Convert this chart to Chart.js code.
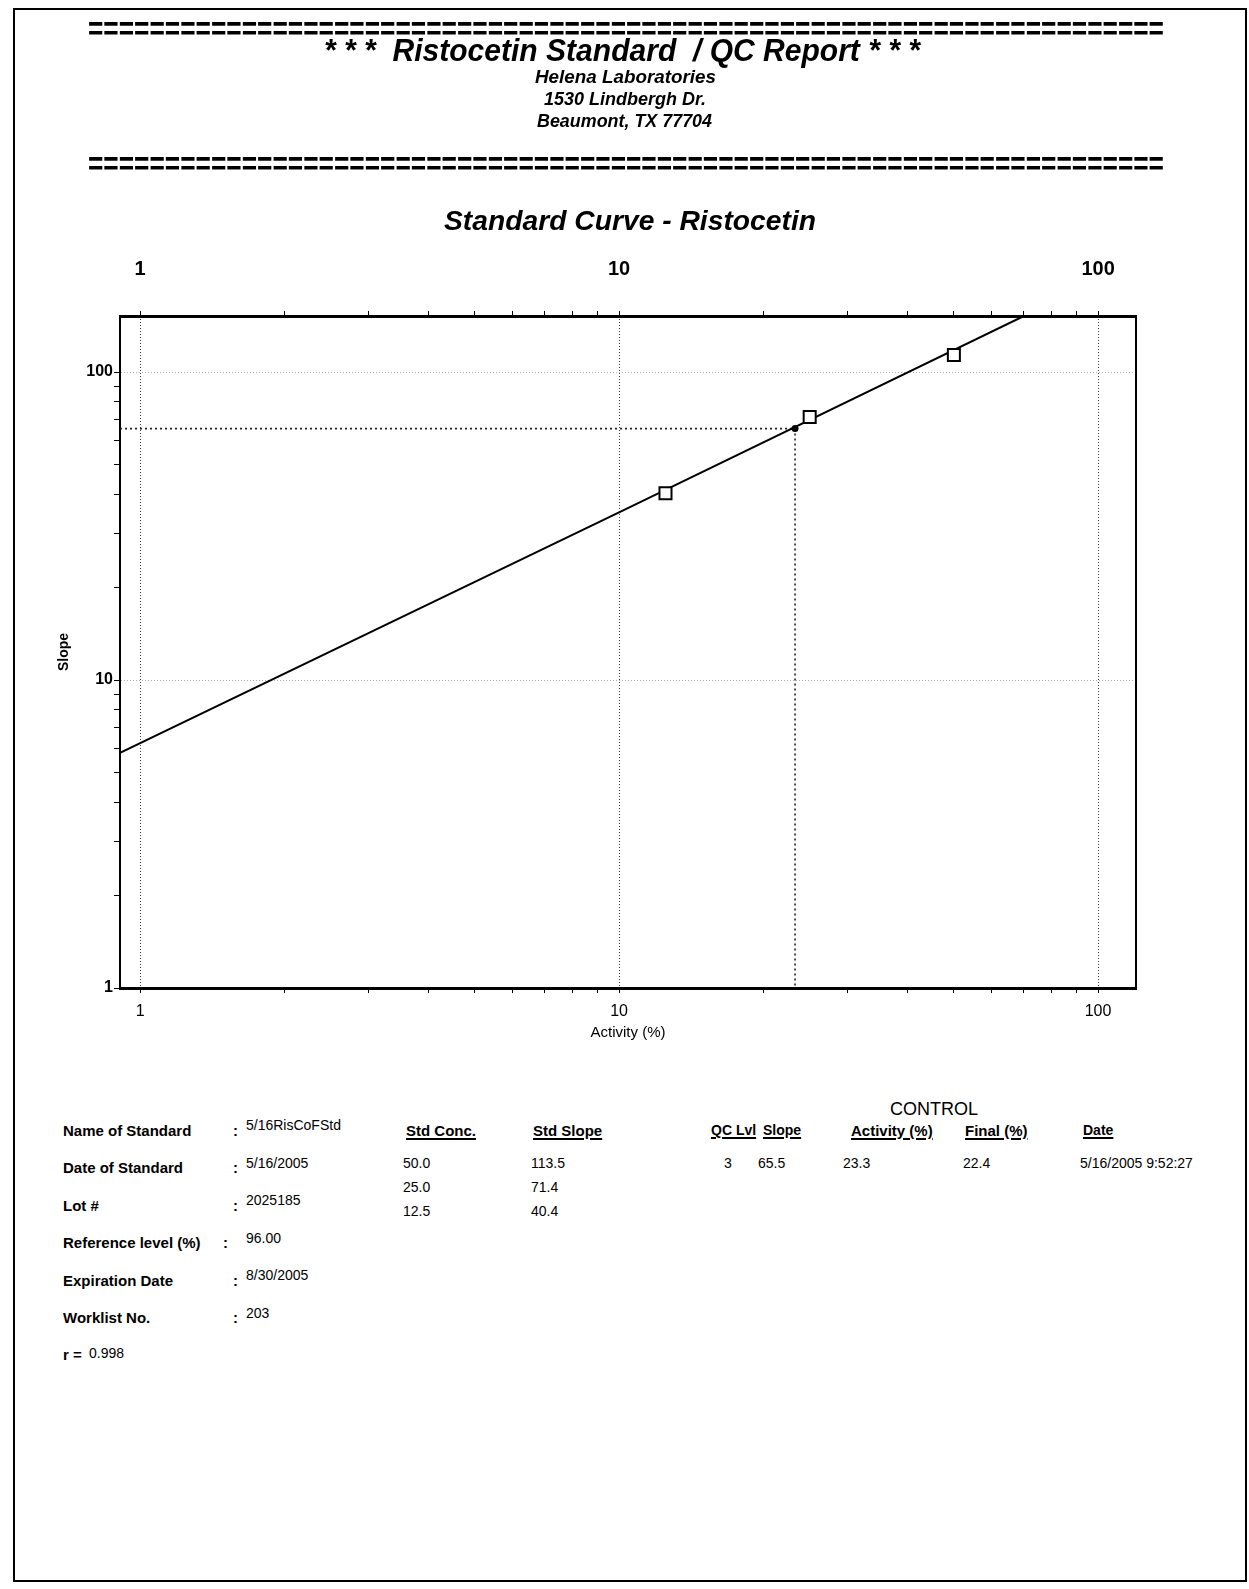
<!DOCTYPE html>
<html>
<head>
<meta charset="utf-8">
<script src="https://cdn.jsdelivr.net/npm/chart.js@4.4.1/dist/chart.umd.min.js"></script>
<style>
html, body { margin: 0; padding: 0; background: #fff; }
body { width: 1249px; height: 1589px; position: relative; overflow: hidden;
       font-family: "Liberation Sans", Arial, sans-serif; color: #000; }
#frame { position: absolute; left: 13px; top: 8px; width: 1234px; height: 1574px;
         border: 2px solid #000; box-sizing: border-box; }
#c { position: absolute; left: 0; top: 0; }
.t { position: absolute; white-space: pre; line-height: 1; transform-origin: 0 0; }
.bi { font-weight: bold; font-style: italic; }
.b { font-weight: bold; }
.u { font-weight: bold; text-decoration: underline; text-decoration-thickness: 1.5px; text-underline-offset: 2px; }
</style>
</head>
<body>
<div id="frame"></div>
<canvas id="c" width="1249" height="1060"></canvas>
<div id="texts"></div>
<script>
// ---------------- data ----------------
const xAxisMin = 0.908, xAxisMax = 120;
const yAxisMin = 1, yAxisMax = 152;
const xTickLabelValues = [1, 10, 100];
const xTickLabels = ['1', '10', '100'];
const yTickLabelValues = [1, 10, 100];
const yTickLabels = ['1', '10', '100'];

const stdConc = [50.0, 25.0, 12.5];
const stdSlope = [113.5, 71.4, 40.4];

const qcLevel = [3];
const qcSlope = [65.5];
const qcActivity = [23.3];
const qcFinal = [22.4];
const qcDate = ['5/16/2005 9:52:27'];

const curveActivity = [0.908, 10, 70];
const curveSlope = [5.8, 35, 152];

const headerLines = ['* * *  Ristocetin Standard  / QC Report * * *', 'Helena Laboratories', '1530 Lindbergh Dr.', 'Beaumont, TX 77704'];
const chartTitle = 'Standard Curve - Ristocetin';
const infoLabels = ['Name of Standard', 'Date of Standard', 'Lot #', 'Reference level (%)', 'Expiration Date', 'Worklist No.'];
const infoValues = ['5/16RisCoFStd', '5/16/2005', '2025185', '96.00', '8/30/2005', '203'];
const rValue = '0.998';

// ---------------- text layout ----------------
const holder = document.getElementById('texts');
function txt(s, x, cy, fs, cls, w) {
  const d = document.createElement('div');
  d.className = 't ' + (cls || '');
  d.textContent = s;
  d.style.fontSize = fs + 'px';
  d.style.left = x + 'px';
  d.style.top = (cy - 0.49 * fs) + 'px';
  holder.appendChild(d);
  if (w) {
    const nat = d.getBoundingClientRect().width;
    d.style.transform = 'scaleX(' + (w / nat) + ')';
  }
  return d;
}
const eq = '='.repeat(70);
txt(eq, 88, 27.5, 34, 'b', 1076);
txt(headerLines[0], 324, 50, 31, 'bi', 596);
txt(headerLines[1], 535, 76, 19, 'bi', 181);
txt(headerLines[2], 544, 98, 19, 'bi', 162);
txt(headerLines[3], 537, 120, 19, 'bi', 175);
txt(eq, 88, 163, 34, 'b', 1076);
txt(chartTitle, 444, 221, 28, 'bi', 372);

// left info block
const rowY0 = 1130, rowStep = 37.5;
infoLabels.forEach((l, i) => {
  const y = rowY0 + i * rowStep;
  txt(l, 63, y, 15, 'b');
  txt(':', i === 3 ? 223 : 233, y, 15, 'b');
  txt(infoValues[i], 246, y - 5, 14, '');
});
txt('r =', 63, 1354, 15, 'b');
txt(rValue, 89, 1353, 14, '');

// standards table
txt('Std Conc.', 406, rowY0, 15, 'u');
txt('Std Slope', 533, rowY0, 15, 'u');
stdConc.forEach((v, i) => {
  txt(v.toFixed(1), 403, 1163 + i * 24, 14, '');
  txt(stdSlope[i].toFixed(1), 531, 1163 + i * 24, 14, '');
});

// control table
txt('CONTROL', 890, 1109, 18, '');
txt('QC Lvl', 711, rowY0, 14, 'u');
txt('Slope', 763, rowY0, 14, 'u');
txt('Activity (%)', 851, rowY0, 15, 'u');
txt('Final (%)', 965, rowY0, 15, 'u');
txt('Date', 1083, rowY0, 14, 'u');
qcLevel.forEach((v, i) => {
  const y = 1163 + i * 24;
  txt(String(v), 724, y, 14, '');
  txt(qcSlope[i].toFixed(1), 758, y, 14, '');
  txt(qcActivity[i].toFixed(1), 843, y, 14, '');
  txt(qcFinal[i].toFixed(1), 963, y, 14, '');
  txt(qcDate[i], 1080, y, 14, '');
});

// ---------------- chart ----------------
Chart.defaults.font.family = '"Liberation Sans", Arial, sans-serif';
Chart.defaults.color = '#000';

const near = (a, b) => Math.abs(a - b) < 1e-6 * Math.max(1, Math.abs(b));
const labelFor = (vals, labels) => (v) => { const i = vals.findIndex(t => near(t, v)); return i < 0 ? '' : labels[i]; };
const isWholeStep = v => { const e = Math.floor(Math.log10(v) + 1e-9); const s = v / Math.pow(10, e); return Math.abs(s - Math.round(s)) < 1e-6; };
const isDecade = v => Math.abs(Math.log10(v) - Math.round(Math.log10(v))) < 1e-6;
const keepTicks = (lo, hi) => (scale) => {
  scale.ticks = scale.ticks.filter(t => t.value >= lo * (1 - 1e-9) && t.value <= hi * (1 + 1e-9) && isWholeStep(t.value));
};

const stdPoints = stdConc.map((c, i) => ({x: c, y: stdSlope[i]}));
const qcPoints = qcActivity.map((a, i) => ({x: a, y: qcSlope[i]}));
const curvePoints = curveActivity.map((a, i) => ({x: a, y: curveSlope[i]}));
const guidePoints = [{x: xAxisMin, y: qcSlope[0]}, {x: qcActivity[0], y: qcSlope[0]}, {x: qcActivity[0], y: yAxisMin}];

new Chart(document.getElementById('c'), {
  type: 'scatter',
  data: {
    datasets: [
      { label: 'Standards', data: stdPoints, pointStyle: 'rect', pointRadius: 8.5, pointBorderWidth: 2,
        pointBackgroundColor: '#fff', pointBorderColor: '#000', showLine: false },
      { label: 'Control', data: qcPoints, pointStyle: 'circle', pointRadius: 3.5, pointBorderWidth: 0,
        pointBackgroundColor: '#000', pointBorderColor: '#000', showLine: false },
      { label: 'Curve', data: curvePoints, showLine: true, borderColor: '#000', borderWidth: 2,
        pointRadius: 0, tension: 0 },
      { label: 'Guide', data: guidePoints, showLine: true, borderColor: '#222', borderWidth: 1.6,
        borderDash: [2, 3], pointRadius: 0, tension: 0 }
    ]
  },
  options: {
    responsive: false,
    devicePixelRatio: 1,
    animation: false,
    events: [],
    layout: { padding: { left: 56, right: 113, top: 240, bottom: 0 } },
    plugins: { legend: { display: false }, tooltip: { enabled: false }, title: { display: false } },
    scales: {
      x: {
        type: 'logarithmic', position: 'bottom', min: xAxisMin, max: xAxisMax,
        afterBuildTicks: keepTicks(1, 100),
        afterFit: s => { s.height = 72; },
        ticks: { autoSkip: false, maxRotation: 0, minRotation: 0, padding: 9, color: '#000',
                 font: { size: 16 }, callback: labelFor(xTickLabelValues, xTickLabels) },
        grid: { color: c => (c.tick && isDecade(c.tick.value)) ? 'rgba(30,30,30,0.85)' : 'rgba(0,0,0,0)',
                lineWidth: 1, tickLength: 5, tickColor: '#000', tickWidth: 1, tickBorderDash: [] },
        border: { display: true, color: '#000', width: 3, dash: [1, 2] },
        title: { display: true, text: 'Activity (%)', color: '#000', font: { size: 15 }, padding: { top: 0, bottom: 18 } }
      },
      x2: {
        type: 'logarithmic', position: 'top', min: xAxisMin, max: xAxisMax,
        afterBuildTicks: keepTicks(1, 100),
        afterFit: s => { s.height = 76; },
        ticks: { autoSkip: false, maxRotation: 0, minRotation: 0, padding: 30, color: '#000',
                 font: { size: 20, weight: 'bold' }, callback: labelFor(xTickLabelValues, xTickLabels) },
        grid: { drawOnChartArea: false, tickLength: 5, tickColor: '#000', tickWidth: 1, tickBorderDash: [] },
        border: { display: true, color: '#000', width: 3 }
      },
      y: {
        type: 'logarithmic', position: 'left', min: yAxisMin, max: yAxisMax,
        afterBuildTicks: keepTicks(1, 100),
        afterFit: s => { s.width = 64; },
        ticks: { autoSkip: false, padding: 1, color: '#000', font: { size: 16, weight: 'bold' },
                 callback: labelFor(yTickLabelValues, yTickLabels) },
        grid: { color: c => (c.tick && isDecade(c.tick.value)) ? 'rgba(140,140,140,0.7)' : 'rgba(0,0,0,0)',
                lineWidth: 1, tickLength: 6, tickColor: '#000', tickWidth: 1, tickBorderDash: [] },
        border: { display: true, color: '#000', width: 2, dash: [1, 2] },
        title: { display: true, text: 'Slope', color: '#000', font: { size: 14, weight: 'bold' }, padding: { top: 0, bottom: 0 } }
      },
      y2: {
        position: 'right', display: true,
        afterFit: s => { s.width = 0; },
        ticks: { display: false },
        grid: { drawOnChartArea: false, drawTicks: false },
        border: { display: true, color: '#000', width: 2 }
      }
    }
  }
});
</script>
</body>
</html>
